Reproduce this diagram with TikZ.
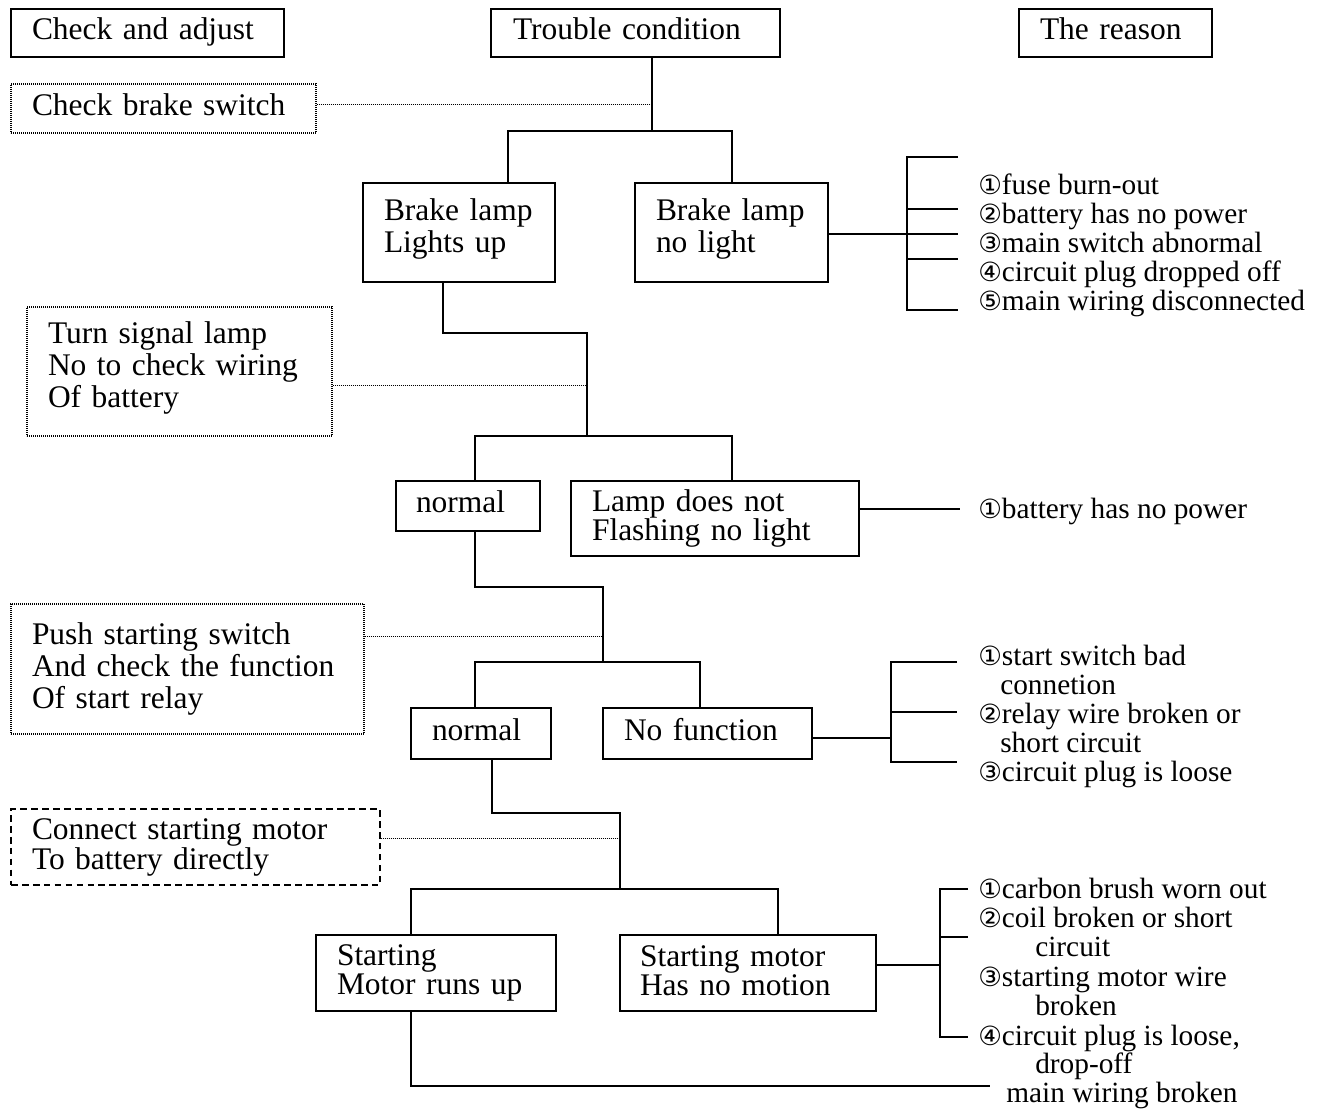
\documentclass[tikz,border=0pt]{standalone}
\usepackage{fontspec}
\setmainfont{Liberation Serif}
\newfontfamily\cnfont[Scale=0.9]{DejaVu Sans}
\newcommand\cn[1]{{\cnfont #1}}
\newcommand\bxfont{\fontsize{23.6}{24}\selectfont}
\newcommand\rsfont{\fontsize{22}{21.75}\selectfont}
\newcommand\bx[8][]{%
  \pgfmathsetmacro\bxw{(#5-#3)*0.75}%
  \pgfmathsetmacro\bxh{(#6-#4)*0.75}%
  \pgfmathsetmacro\bxt{(#5-#3-2*#7)*0.75}%
  \node[box,#1,minimum width=\bxw pt,minimum height=\bxh pt,text width=\bxt pt] (#2) at ({(#3+#5)/2},{(#4+#6)/2}) {#8};}
\tikzset{
  box/.style={draw, line width=1.2pt, inner xsep=0pt, inner ysep=0pt, align=left, font=\bxfont, text depth=6.5pt},
  dotbox/.style={line width=0.8pt, dash pattern=on 0.6pt off 0.9pt},
  dashbox/.style={line width=1.1pt, dash pattern=on 5pt off 3.2pt},
  conn/.style={line width=1.2pt},
  dotconn/.style={line width=0.7pt, dash pattern=on 0.6pt off 0.9pt},
  rsn/.style={anchor=base west, inner sep=0pt, font=\rsfont},
}
\begin{document}
\begin{tikzpicture}[x=0.75pt, y=-0.75pt]
\useasboundingbox (0,0) rectangle (1323,1111);

% header boxes
\bx{hdr1}{11}{9}{284}{57}{21}{Check and adjust}
\bx{hdr2}{491}{9}{780}{57}{22}{Trouble condition}
\bx{hdr3}{1019}{9}{1212}{57}{21}{The reason}

% check boxes
\bx[dotbox]{chk1}{11}{84}{316}{133}{21}{Check brake switch}
\bx[dotbox,text depth=59pt]{chk2}{27}{307}{332}{436}{21}{Turn signal lamp\\No to check wiring\\Of battery}
\bx[dotbox,text depth={}]{chk3}{11}{604}{364}{734}{21}{Push starting switch\\And check the function\\Of start relay}
\bx[dashbox,font=\fontsize{23.6}{20.25}\selectfont,text depth={}]{chk4}{11}{809}{380}{885}{21}{Connect starting motor\\To battery directly}

% condition boxes
\bx[text depth=34.3pt]{lights}{363}{183}{555}{282}{21}{Brake lamp\\Lights up}
\bx[text depth=34.3pt]{nolight}{635}{183}{828}{282}{21}{Brake lamp\\no light}
\bx{normal1}{396}{481}{540}{531}{20}{normal}
\bx[font=\fontsize{23.6}{20.25}\selectfont,text depth={}]{lampnot}{571}{481}{859}{556}{21}{Lamp does not\\Flashing no light}
\bx{normal2}{411}{708}{551}{759}{21}{normal}
\bx{nofunc}{603}{708}{812}{759}{21}{No function}
\bx[font=\fontsize{23.6}{21.5}\selectfont,text depth={}]{starting}{316}{935}{556}{1011}{21}{Starting\\Motor runs up}
\bx[font=\fontsize{23.6}{21.5}\selectfont,text depth=25pt]{motor}{620}{935}{876}{1011}{20}{Starting motor\\Has no motion}

% ---- level 1
\coordinate (j1) at (652,131);
\coordinate (b1l) at (508,131);
\coordinate (b1r) at (732,131);
\coordinate (d1) at (652,104);
\draw[conn] (hdr2.south -| j1) -- (j1);
\draw[conn] (lights.north -| b1l) |- (b1r) -- (nolight.north -| b1r);
\draw[dotconn] (d1 -| chk1.east) -- (d1);

% reasons group 1
\coordinate (r1) at (907,234);
\coordinate (r1t) at (907,157);
\coordinate (r1b) at (907,310);
\draw[conn] (nolight.east |- r1) -- (r1) -- ++(51,0);
\draw[conn] (r1t) ++(51,0) -- (r1t) -- (r1b) -- ++(51,0);
\draw[conn] (907,209) -- (958,209);
\draw[conn] (907,259) -- (958,259);
\node[rsn] (g1a) at (978,194) {\cn{①}fuse burn-out};
\node[rsn] (g1b) at (978,223) {\cn{②}battery has no power};
\node[rsn] (g1c) at (978,252) {\cn{③}main switch abnormal};
\node[rsn] (g1d) at (978,281) {\cn{④}circuit plug dropped off};
\node[rsn] (g1e) at (978,310) {\cn{⑤}main wiring disconnected};

% ---- level 2
\coordinate (k1) at (443,333);
\coordinate (k2) at (587,333);
\coordinate (j2) at (587,436);
\coordinate (b2l) at (475,436);
\coordinate (b2r) at (732,436);
\coordinate (d2) at (587,385);
\draw[conn] (lights.south -| k1) -- (k1) -- (k2) -- (j2);
\draw[conn] (normal1.north -| b2l) |- (b2r) -- (lampnot.north -| b2r);
\draw[dotconn] (d2 -| chk2.east) -- (d2);

\coordinate (r2) at (960,509);
\draw[conn] (lampnot.east |- r2) -- (r2);
\node[rsn] (g2a) at (978,518) {\cn{①}battery has no power};

% ---- level 3
\coordinate (k3) at (475,587);
\coordinate (k4) at (603,587);
\coordinate (j3) at (603,662);
\coordinate (b3l) at (475,662);
\coordinate (b3r) at (700,662);
\coordinate (d3) at (603,636);
\draw[conn] (normal1.south -| k3) -- (k3) -- (k4) -- (j3);
\draw[conn] (normal2.north -| b3l) |- (b3r) -- (nofunc.north -| b3r);
\draw[dotconn] (d3 -| chk3.east) -- (d3);

\coordinate (r3) at (891,738);
\coordinate (r3t) at (891,662);
\coordinate (r3b) at (891,762);
\draw[conn] (nofunc.east |- r3) -- (r3);
\draw[conn] (r3t) ++(66,0) -- (r3t) -- (r3b) -- ++(66,0);
\draw[conn] (891,712) -- (957,712);
\node[rsn] (g3a) at (978,665) {\cn{①}start switch bad};
\node[rsn] (g3b) at (1000,694) {connetion};
\node[rsn] (g3c) at (978,723) {\cn{②}relay wire broken or};
\node[rsn] (g3d) at (1000,752) {short circuit};
\node[rsn] (g3e) at (978,781) {\cn{③}circuit plug is loose};

% ---- level 4
\coordinate (k5) at (492,813);
\coordinate (k6) at (620,813);
\coordinate (j4) at (620,889);
\coordinate (b4l) at (411,889);
\coordinate (b4r) at (778,889);
\coordinate (d4) at (620,838);
\draw[conn] (normal2.south -| k5) -- (k5) -- (k6) -- (j4);
\draw[conn] (starting.north -| b4l) |- (b4r) -- (motor.north -| b4r);
\draw[dotconn] (d4 -| chk4.east) -- (d4);

\coordinate (r4) at (940,965);
\coordinate (r4t) at (940,889);
\coordinate (r4b) at (940,1037);
\draw[conn] (motor.east |- r4) -- (r4);
\draw[conn] (r4t) ++(28,0) -- (r4t) -- (r4b) -- ++(28,0);
\draw[conn] (940,937) -- (968,937);
\node[rsn] (g4a) at (978,898) {\cn{①}carbon brush worn out};
\node[rsn] (g4b) at (978,927) {\cn{②}coil broken or short};
\node[rsn] (g4c) at (1035,956) {circuit};
\node[rsn] (g4d) at (978,986) {\cn{③}starting motor wire};
\node[rsn] (g4e) at (1035,1015) {broken};
\node[rsn] (g4f) at (978,1045) {\cn{④}circuit plug is loose,};
\node[rsn] (g4g) at (1035,1073) {drop-off};
\node[rsn] (g4h) at (1006,1102) {main wiring broken};

% bottom line
\coordinate (k7) at (411,1086);
\coordinate (k8) at (990,1086);
\draw[conn] (starting.south -| k7) -- (k7) -- (k8);
\end{tikzpicture}
\end{document}
